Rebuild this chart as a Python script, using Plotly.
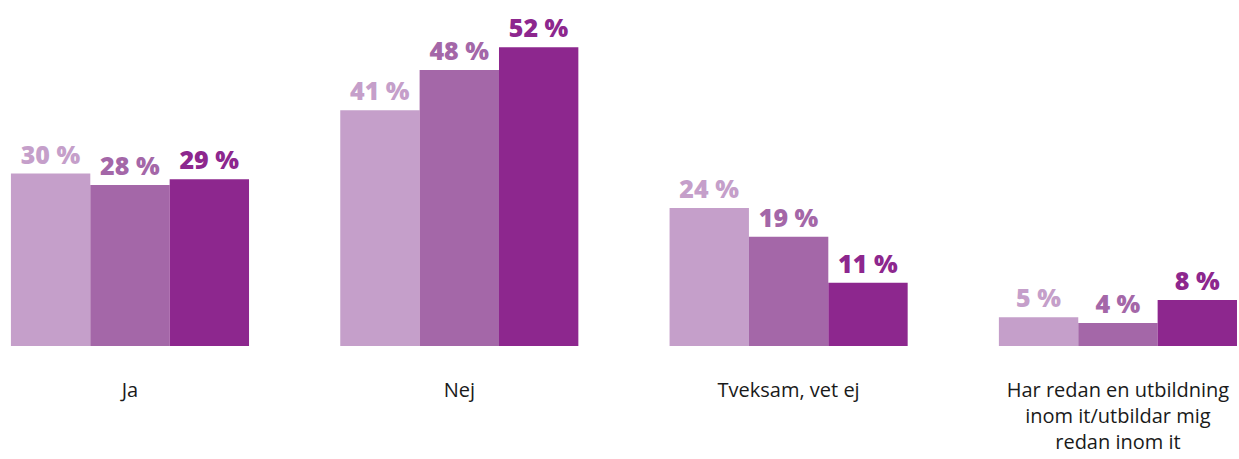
import plotly.graph_objects as go

categories = ["Ja", "Nej", "Tveksam, vet ej",
              "Har redan en utbildning<br>inom it/utbildar mig<br>redan inom it"]
series_names = ["Serie 1", "Serie 2", "Serie 3"]
values_1 = [30, 41, 24, 5]
values_2 = [28, 48, 19, 4]
values_3 = [29, 52, 11, 8]

colors = ["#c59fca", "#a467a8", "#8d278e"]

fig = go.Figure()
for name, vals, col in zip(series_names, [values_1, values_2, values_3], colors):
    fig.add_trace(go.Bar(
        x=categories, y=vals, name=name,
        marker=dict(color=col, line=dict(width=0)),
        text=[f"{v} %" for v in vals],
        textposition="outside",
        textfont=dict(family="Open Sans", size=25, color=col, weight=800),
        constraintext="none",
        cliponaxis=False,
    ))

fig.update_layout(
    barmode="group",
    bargap=0.277,
    bargroupgap=0,
    showlegend=False,
    width=1239, height=459,
    margin=dict(l=0, r=0, t=0, b=113),
    paper_bgcolor="white",
    plot_bgcolor="white",
    font=dict(family="Open Sans", color="#1a1a1a"),
)
fig.update_xaxes(
    range=[-0.3947, 3.3676],
    showgrid=False, showline=False, zeroline=False,
    ticks="", tickfont=dict(size=20, color="#1a1a1a"),
    ticklabelstandoff=30,
    automargin=False,
)
fig.update_yaxes(range=[0, 60.2], visible=False)

# drop the default body margin so the figure fills the window exactly
fig.write_html("out.html",
               config={"displayModeBar": False},
               post_script="document.body.style.margin='0';document.body.style.overflow='hidden';")
